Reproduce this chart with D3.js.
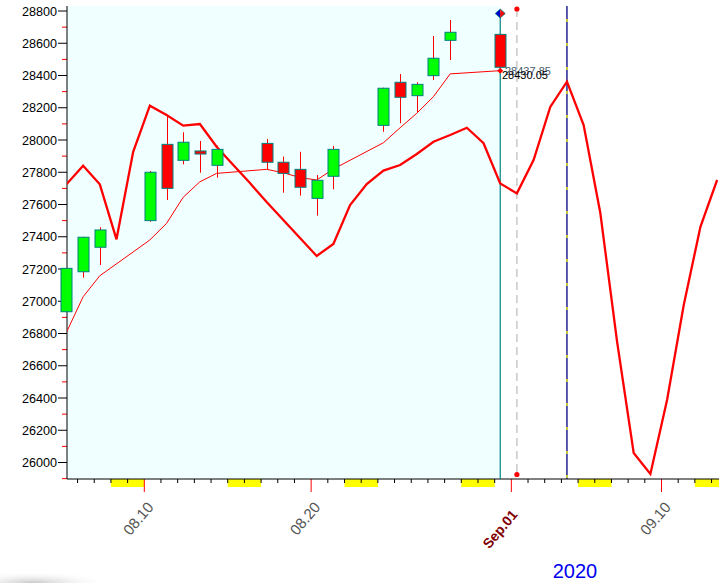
<!DOCTYPE html>
<html><head><meta charset="utf-8">
<script src="https://cdn.jsdelivr.net/npm/d3@7"></script>
<style>html,body{margin:0;padding:0;background:#fff;overflow:hidden}svg{display:block}</style>
</head><body>
<script>
// ---- data ----
const candleDates = ["2020-08-05","2020-08-06","2020-08-07","2020-08-10","2020-08-11","2020-08-12","2020-08-13","2020-08-14","2020-08-17","2020-08-18","2020-08-19","2020-08-20","2020-08-21","2020-08-24","2020-08-25","2020-08-26","2020-08-27","2020-08-28","2020-08-31"];
const openVals  = [26935,27183,27335,27500,27973,27874,27932,27843,27979,27862,27818,27638,27775,28091,28358,28275,28399,28618,28655];
const highVals  = [27225,27400,27459,27808,28155,28048,27994,27965,28006,27897,27927,27783,27963,28325,28409,28358,28645,28744,28655];
const lowVals   = [26930,27146,27225,27493,27628,27849,27797,27766,27818,27673,27655,27531,27694,28051,28104,28169,28372,28496,28451];
const closeVals = [27204,27397,27442,27800,27700,27986,27913,27942,27862,27793,27707,27750,27942,28321,28265,28345,28507,28668,28451];
const maVals    = [26807,27028,27158,27380,27483,27645,27741,27793,27818,27797,27767,27752,27820,27983,28076,28166,28269,28410,28430];

const cycleStart = "2020-08-05";
const cycleVals = [27725,27841,27725,27384,27927,28213,28155,28089,28099,27958,27845,27733,27615,27504,27392,27281,27355,27597,27727,27810,27845,27913,27989,28031,28076,27980,27731,27669,27876,28205,28362,28093,27547,26753,26059,25929,26388,26977,27462,27752];

const weekendStarts = ["2020-08-08","2020-08-15","2020-08-22","2020-08-29","2020-09-05","2020-09-12"];
const majorTicks = [{d:"2020-08-10",label:"08.10"},{d:"2020-08-20",label:"08.20"},{d:"2020-09-01",label:"Sep.01",special:true},{d:"2020-09-10",label:"09.10"}];
const yearLabel = "2020";
const lastLabels = ["28437.85","28430.05"];
const nextDay = "2020-09-01";
const cycleMarkDay = "2020-09-04";

// ---- setup ----
const W=719,H=583;
const DAY=864e5, OFF=8*3600e3;
const pd = s => new Date(s+"T00:00:00Z");
const x = d3.scaleUtc().domain([pd("2020-08-10"),pd("2020-09-10")]).range([144.3,661.5]);
const xc = s => x(new Date(pd(s).getTime()+OFF));
const y = d3.scaleLinear().domain([26000,28800]).range([462.5,11]);
const L=67, R=719, T=6, B=479;

const svg=d3.select("body").append("svg").attr("width",W).attr("height",H)
  .style("font-family","'Liberation Sans',Arial,sans-serif");
const defs=svg.append("defs");
const rg=defs.append("radialGradient").attr("id","sh").attr("cx","0.3").attr("cy","1").attr("r","0.7");
rg.append("stop").attr("offset","0").attr("stop-color","#c8c8c8");
rg.append("stop").attr("offset","1").attr("stop-color","#fff").attr("stop-opacity",0);
svg.append("rect").attr("x",0).attr("y",566).attr("width",110).attr("height",17).attr("fill","url(#sh)");
defs.append("clipPath").attr("id","clip").append("rect").attr("x",L).attr("y",T).attr("width",R-L).attr("height",B-T);

const lastX = xc(candleDates[candleDates.length-1]);
// background
svg.append("rect").attr("x",L).attr("y",T).attr("width",lastX-L).attr("height",B-T).attr("fill","#F0FFFF");

// weekend yellow bars
svg.selectAll(".wk").data(weekendStarts).join("rect")
  .attr("x",d=>x(pd(d))).attr("y",B).attr("width",d=>Math.min(x(new Date(pd(d).getTime()+2*DAY)),R)-x(pd(d)))
  .attr("height",8).attr("fill","#FFFF00");

// x minor ticks
const days=d3.utcDay.range(pd("2020-08-05"),pd("2020-09-15"));
const majSet=new Set(majorTicks.map(m=>m.d));
svg.selectAll(".mt").data(days.filter(d=>x(d)>L && x(d)<R && !majSet.has(d3.utcFormat("%Y-%m-%d")(d)))).join("line")
  .attr("x1",d=>x(d)).attr("x2",d=>x(d)).attr("y1",B).attr("y2",B+4).attr("stroke","#000");
// x major ticks + labels
majorTicks.forEach(m=>{
  const xx=x(pd(m.d));
  svg.append("line").attr("x1",xx).attr("x2",xx).attr("y1",B).attr("y2",B+13).attr("stroke","#FF0000");
  const px = m.special? xx+7 : xx+10, py = m.special? 515 : 507.5;
  svg.append("text").attr("transform",`translate(${px},${py}) rotate(-50)`).attr("text-anchor","end")
    .attr("font-size",m.special?14:15).attr("font-weight",m.special?"bold":"normal")
    .attr("fill",m.special?"#800000":"#555").text(m.label);
});
svg.append("text").attr("x",575).attr("y",578).attr("text-anchor","middle").attr("font-size",20).attr("fill","#0000EE").text(yearLabel);

// y ticks
const minor=d3.range(25900,28801,100);
minor.forEach(v=>{
  const major=(v%200===0);
  svg.append("line").attr("x1",major?L-9:L-5).attr("x2",L).attr("y1",y(v)).attr("y2",y(v)).attr("stroke",major?"#000":"#FF0000");
  if(major) svg.append("text").attr("x",57).attr("y",y(v)).attr("dy","0.36em").attr("text-anchor","end").attr("font-size",12.6).attr("fill","#000").text(v);
});

// axes lines
svg.append("line").attr("x1",L).attr("x2",L).attr("y1",T).attr("y2",B).attr("stroke","#000");
svg.append("line").attr("x1",L).attr("x2",R).attr("y1",B).attr("y2",B).attr("stroke","#000");

const g=svg.append("g").attr("clip-path","url(#clip)");

// vertical markers
g.append("line").attr("x1",lastX).attr("x2",lastX).attr("y1",T+7).attr("y2",B).attr("stroke","#008080").attr("stroke-width",1.2);
const nx=xc(nextDay);
g.append("line").attr("x1",nx).attr("x2",nx).attr("y1",9).attr("y2",475).attr("stroke","#BBBBBB").attr("stroke-width",1.2).attr("stroke-dasharray","8,5");
const cx=xc(cycleMarkDay);
g.append("line").attr("x1",cx).attr("x2",cx).attr("y1",T).attr("y2",B).attr("stroke","#000080").attr("stroke-width",1.3);
g.append("line").attr("x1",cx).attr("x2",cx).attr("y1",T).attr("y2",B).attr("stroke","#FFFF00").attr("stroke-width",1.3).attr("stroke-dasharray","0,13,3,8");

// MA thin line
const maLine=d3.line().x((d,i)=>xc(candleDates[i])).y(d=>y(d));
g.append("path").attr("d",maLine(maVals)).attr("fill","none").attr("stroke","#FF0000").attr("stroke-width",1);

// cycle thick line
const cyc=d3.line().x((d,i)=>x(new Date(pd(cycleStart).getTime()+i*DAY+OFF))).y(d=>y(d));
g.append("path").attr("d",cyc(cycleVals)).attr("fill","none").attr("stroke","#FF0000").attr("stroke-width",2.3);

// candles
const cw=11;
candleDates.forEach((d,i)=>{
  const xx=Math.round(xc(d))+0.5;
  g.append("line").attr("x1",xx).attr("x2",xx).attr("y1",y(highVals[i])).attr("y2",y(lowVals[i])).attr("stroke","#FF0000").attr("stroke-width",1);
  const up=closeVals[i]>=openVals[i];
  const top=y(Math.max(openVals[i],closeVals[i])), bot=y(Math.min(openVals[i],closeVals[i]));
  svg.append("rect").attr("x",xx-cw/2).attr("y",top).attr("width",cw).attr("height",Math.max(bot-top,2))
    .attr("fill",up?"#00FF00":"#FF0000").attr("stroke","#008080").attr("stroke-width",1);
});

// last point marker & labels
const mLast=maVals[maVals.length-1];
svg.append("path").attr("d",`M${lastX-3},${y(mLast)}L${lastX},${y(mLast)-3}L${lastX+3},${y(mLast)}L${lastX},${y(mLast)+3}Z`).attr("fill","#FF0000");
svg.append("text").attr("x",505).attr("y",75).attr("font-size",11).attr("fill","#4a5a6a").text(lastLabels[0]);
svg.append("text").attr("x",502).attr("y",79).attr("font-size",11).attr("fill","#000").text(lastLabels[1]);

// diamond at top
const dy0=13.5;
svg.append("path").attr("d",`M${lastX-5},${dy0}L${lastX},${dy0-4.5}L${lastX},${dy0+4.5}Z`).attr("fill","#0000CC");
svg.append("path").attr("d",`M${lastX+5},${dy0}L${lastX},${dy0-4.5}L${lastX},${dy0+4.5}Z`).attr("fill","#FF0000");
svg.append("path").attr("d",`M${lastX-5},${dy0}L${lastX},${dy0-4.5}L${lastX+5},${dy0}L${lastX},${dy0+4.5}Z`).attr("fill","none").attr("stroke","#008080").attr("stroke-width",0.8);
// red dots on grey dashed line
[9,474.5].forEach(yy=>svg.append("circle").attr("cx",nx).attr("cy",yy).attr("r",2.6).attr("fill","#FF0000"));
</script>
</body></html>
